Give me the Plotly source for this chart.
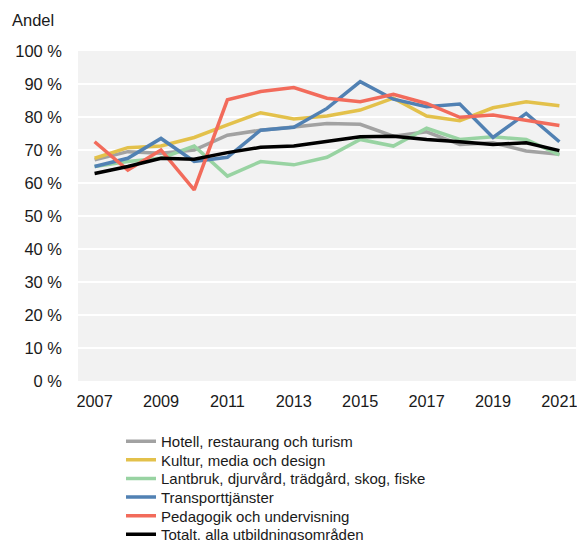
import plotly.graph_objects as go

years = list(range(2007, 2022))

hotell = [67.0, 69.5, 69.0, 70.0, 74.5, 76.0, 77.0, 78.0, 77.8, 74.2, 75.5, 71.7, 72.2, 69.7, 68.7]
kultur = [67.5, 70.7, 71.2, 73.8, 77.6, 81.3, 79.4, 80.3, 82.1, 85.7, 80.3, 78.9, 82.8, 84.6, 83.4]
lantbruk = [65.0, 66.5, 67.5, 71.2, 62.1, 66.5, 65.5, 67.8, 73.2, 71.2, 76.6, 73.2, 74.0, 73.2, 68.5]
transport = [65.0, 67.5, 73.5, 66.5, 67.8, 76.0, 76.9, 82.6, 90.7, 85.4, 83.1, 83.9, 73.8, 81.1, 72.5]
pedagogik = [72.5, 63.9, 70.0, 57.9, 85.2, 87.7, 88.9, 85.7, 84.6, 86.9, 84.1, 79.9, 80.6, 78.9, 77.4]
totalt = [62.9, 65.0, 67.5, 67.2, 69.2, 70.8, 71.2, 72.5, 74.0, 74.2, 73.2, 72.5, 71.7, 72.2, 69.8]

names = [
    "Hotell, restaurang och turism",
    "Kultur, media och design",
    "Lantbruk, djurvård, trädgård, skog, fiske",
    "Transporttjänster",
    "Pedagogik och undervisning",
    "Totalt, alla utbildningsområden",
]
values = [hotell, kultur, lantbruk, transport, pedagogik, totalt]
colors = ["#a2a2a2", "#e3c14b", "#98d3a2", "#5181b3", "#f26b5b", "#000000"]

yticks = list(range(0, 101, 10))
ytick_labels = [f"{v} %" for v in yticks]
xticks = list(range(2007, 2022, 2))

W, H = 577, 560
PLOT_TOP, PLOT_BOTTOM, PLOT_LEFT, PLOT_RIGHT = 51, 381, 78, 576
ph = PLOT_BOTTOM - PLOT_TOP
pw = PLOT_RIGHT - PLOT_LEFT

FONT = "Liberation Sans, Arial, Helvetica, sans-serif"

fig = go.Figure()
legend_layouts = {}
row_centers = [441.5, 460, 478.7, 497.3, 516, 534.5]
for i, (name, vals, color) in enumerate(zip(names, values, colors)):
    lg = "legend" if i == 0 else f"legend{i + 1}"
    fig.add_trace(go.Scatter(x=years, y=vals, mode="lines", name=name,
                             line=dict(color=color, width=3.5), legend=lg))
    legend_layouts[lg] = dict(
        x=(121 - PLOT_LEFT) / pw, y=(PLOT_BOTTOM - row_centers[i]) / ph,
        xanchor="left", yanchor="middle", orientation="v",
        font=dict(size=15, family=FONT, color="#1a1a1a"),
        bgcolor="rgba(0,0,0,0)", borderwidth=0, itemwidth=30,
    )

fig.update_layout(
    width=W, height=H,
    margin=dict(l=PLOT_LEFT, r=W - PLOT_RIGHT, t=PLOT_TOP, b=H - PLOT_BOTTOM, pad=0,
                autoexpand=False),
    paper_bgcolor="white",
    plot_bgcolor="#f2f2f2",
    font=dict(family=FONT, size=16, color="#1a1a1a"),
    showlegend=True,
    xaxis=dict(range=[2006.5, 2021.5], tickvals=xticks, showgrid=False,
               zeroline=False, showline=False, ticks="", ticklabelstandoff=9,
               ticklabeloverflow="allow", tickfont=dict(size=16.3)),
    yaxis=dict(range=[0, 100], tickvals=yticks, ticktext=ytick_labels,
               showgrid=True, gridcolor="white", gridwidth=2, zeroline=False,
               showline=False, ticks="", ticklabelstandoff=15,
               tickfont=dict(size=16.5)),
    annotations=[dict(text="Andel", xref="paper", yref="paper",
                      x=(10 - PLOT_LEFT) / pw, y=(PLOT_BOTTOM - 20) / ph,
                      xanchor="left", yanchor="middle", showarrow=False,
                      font=dict(size=16.5))],
    **legend_layouts,
)

post = ("document.body.style.margin='0';"
        "document.body.style.overflow='hidden';"
        "document.documentElement.style.overflow='hidden';")
fig.write_html("out.html", post_script=post, config={"displayModeBar": False})
